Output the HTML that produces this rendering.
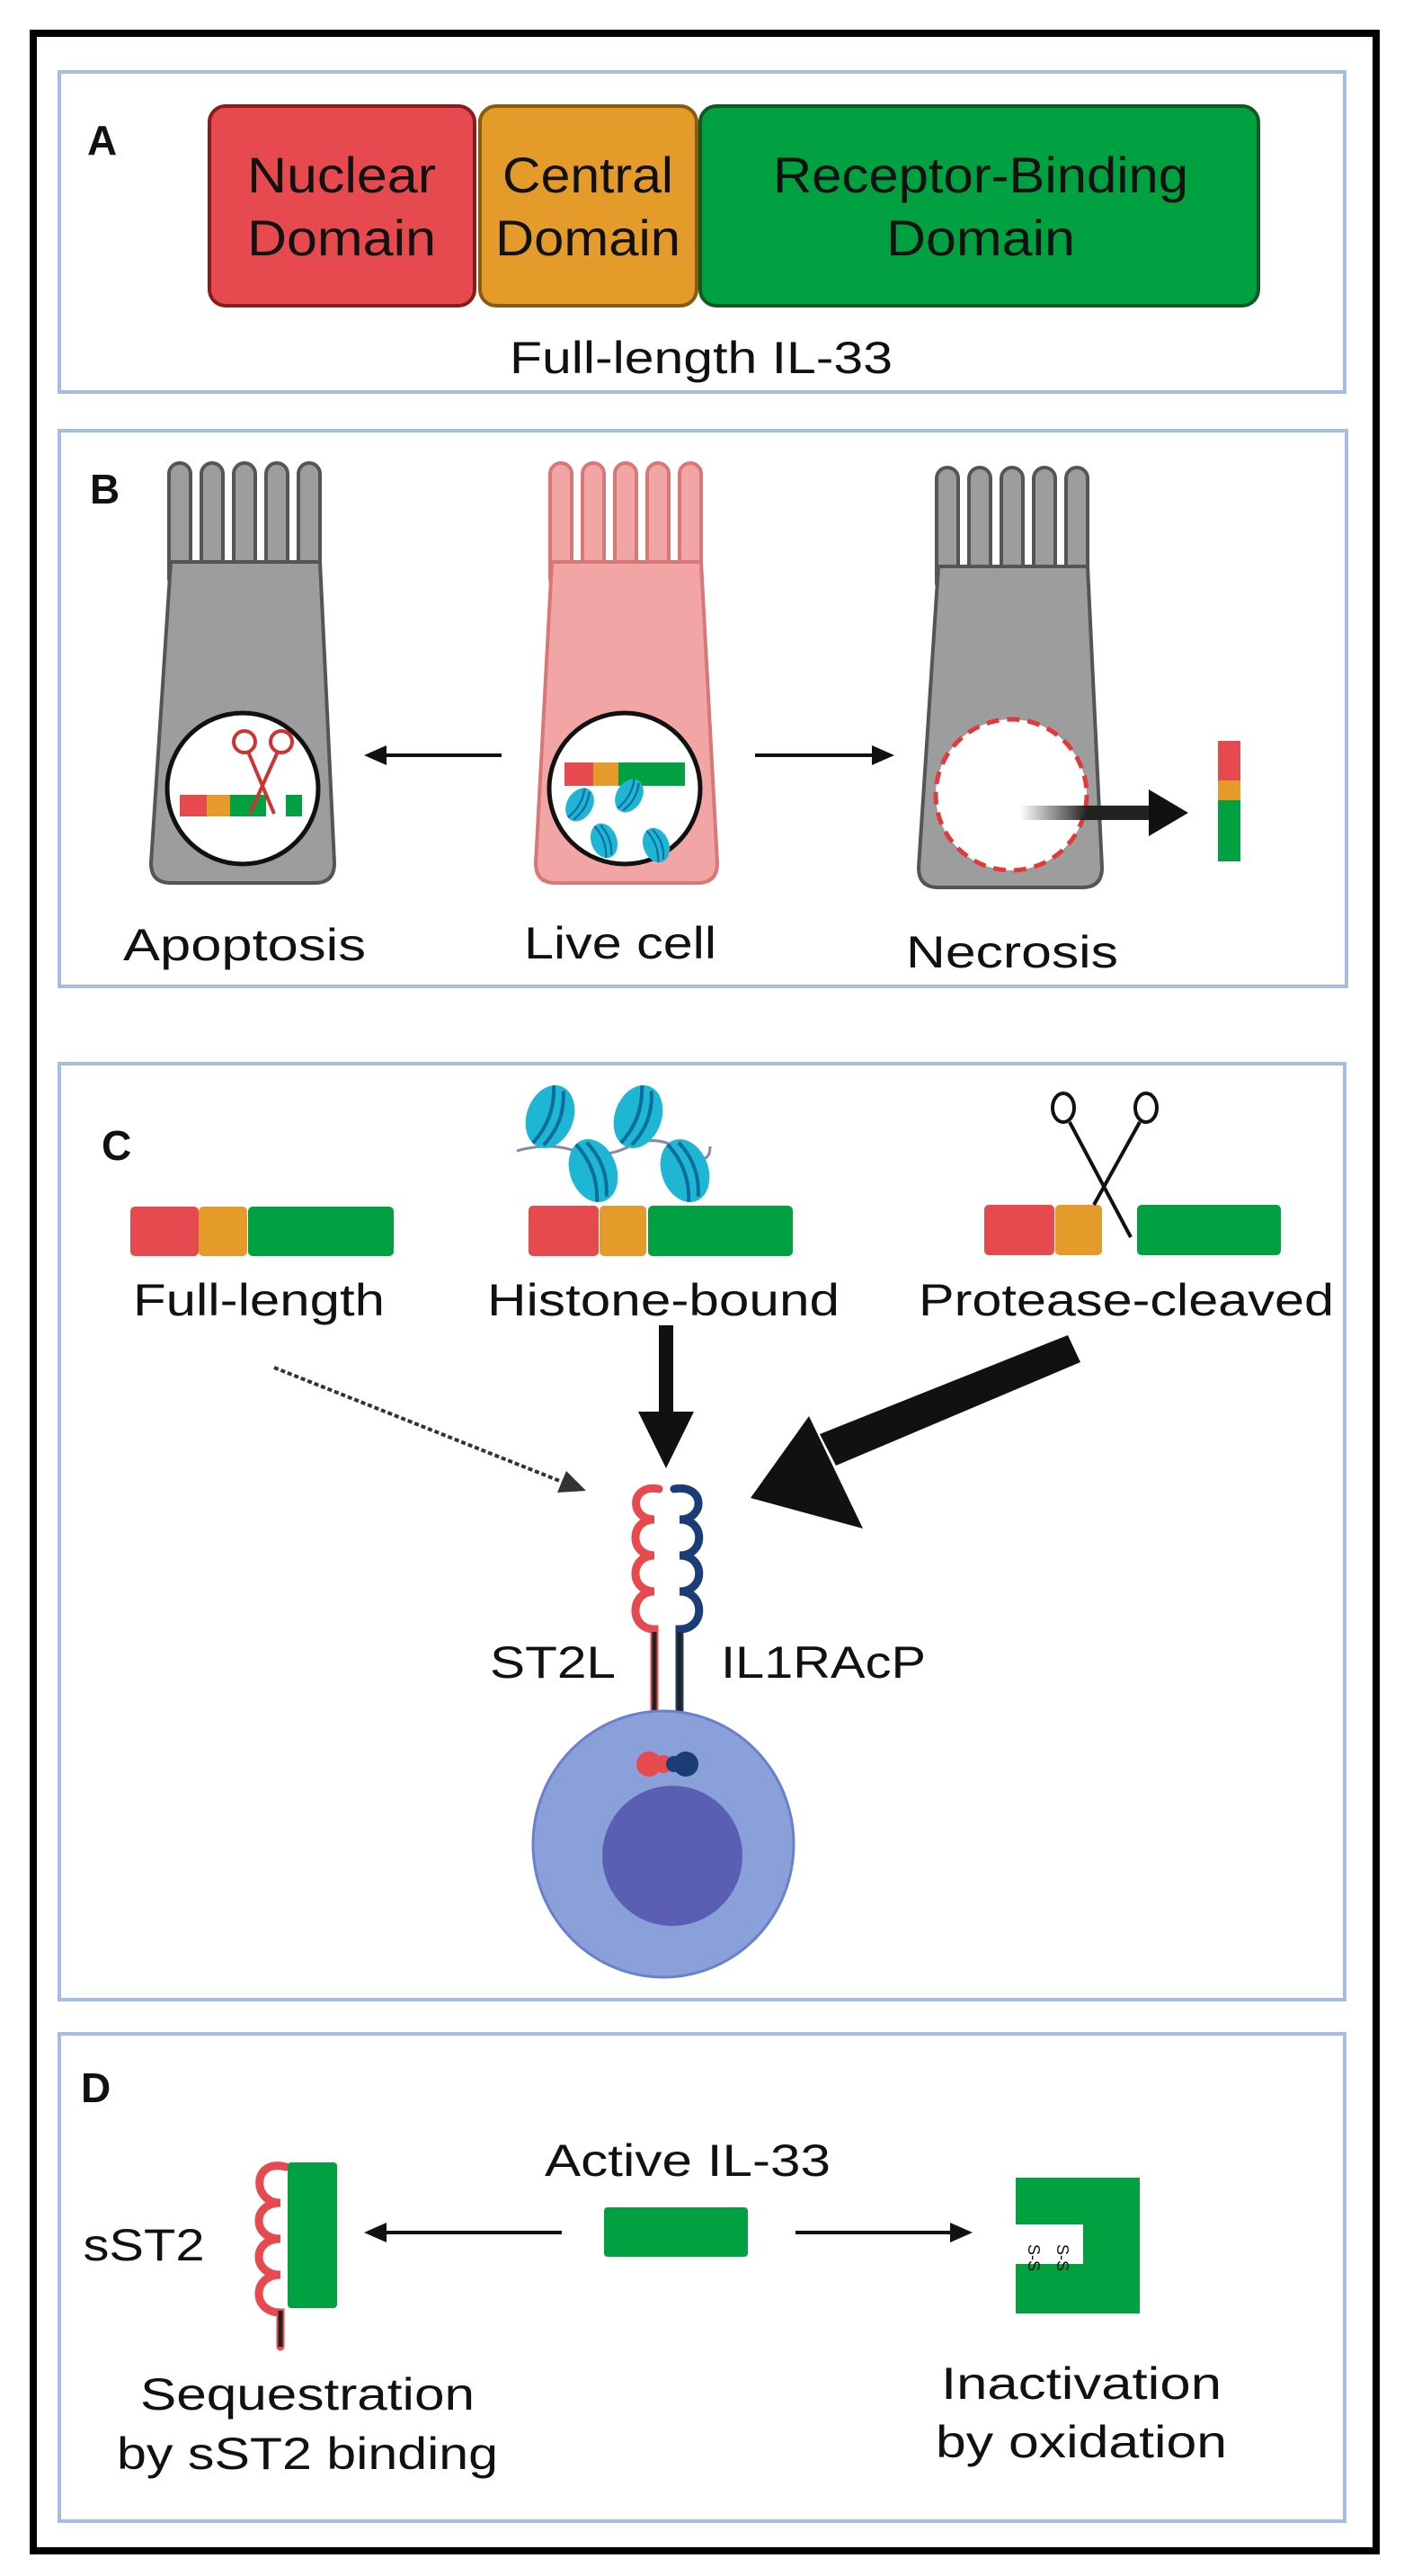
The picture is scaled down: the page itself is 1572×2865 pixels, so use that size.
<!DOCTYPE html>
<html><head><meta charset="utf-8"><style>html,body{margin:0;padding:0;background:#fff}svg{display:block}text{font-family:"Liberation Sans",sans-serif;fill:#111}</style></head><body>
<svg width="1572" height="2865" viewBox="0 0 1572 2865" xmlns="http://www.w3.org/2000/svg">
<defs>
<marker id="ah" markerWidth="10" markerHeight="10" refX="9" refY="5" orient="auto" markerUnits="userSpaceOnUse"><path d="M0,0 L0,0"/></marker>
<linearGradient id="fade" x1="0" x2="1"><stop offset="0" stop-color="#222" stop-opacity="0"/><stop offset="0.5" stop-color="#222"/><stop offset="1" stop-color="#222"/></linearGradient>
<g id="fingersG">
<rect x="0" y="0" width="24" height="140" rx="12" fill="#9d9d9d" stroke="#555" stroke-width="4"/>
<rect x="36" y="0" width="24" height="140" rx="12" fill="#9d9d9d" stroke="#555" stroke-width="4"/>
<rect x="72" y="0" width="24" height="140" rx="12" fill="#9d9d9d" stroke="#555" stroke-width="4"/>
<rect x="108" y="0" width="24" height="140" rx="12" fill="#9d9d9d" stroke="#555" stroke-width="4"/>
<rect x="144" y="0" width="24" height="140" rx="12" fill="#9d9d9d" stroke="#555" stroke-width="4"/>
</g>
<g id="fingersP">
<rect x="0" y="0" width="24" height="140" rx="12" fill="#f2a5a5" stroke="#d97777" stroke-width="4"/>
<rect x="36" y="0" width="24" height="140" rx="12" fill="#f2a5a5" stroke="#d97777" stroke-width="4"/>
<rect x="72" y="0" width="24" height="140" rx="12" fill="#f2a5a5" stroke="#d97777" stroke-width="4"/>
<rect x="108" y="0" width="24" height="140" rx="12" fill="#f2a5a5" stroke="#d97777" stroke-width="4"/>
<rect x="144" y="0" width="24" height="140" rx="12" fill="#f2a5a5" stroke="#d97777" stroke-width="4"/>
</g>
<g id="hist"><ellipse cx="0" cy="0" rx="26" ry="36" fill="#1fb6d6"/><path d="M-8,-34 Q6,0 -8,34 M4,-32 Q18,0 4,32" stroke="#0b6d9a" stroke-width="4" fill="none"/></g>
</defs>
<rect x="0" y="0" width="1572" height="2865" fill="#fff"/>
<rect x="37" y="37" width="1494" height="2800" fill="none" stroke="#000" stroke-width="8"/>
<!-- panel A -->
<rect x="66" y="80" width="1430" height="356" fill="none" stroke="#a4bde3" stroke-width="4"/>
<text x="97" y="172" font-size="46" font-weight="bold" textLength="36">A</text>
<rect x="233" y="118" width="295" height="222" rx="18" fill="#e64a4e" stroke="#8b1a1a" stroke-width="4"/>
<rect x="534" y="118" width="241" height="222" rx="18" fill="#e49b29" stroke="#8a5a10" stroke-width="4"/>
<rect x="779" y="118" width="621" height="222" rx="18" fill="#01a040" stroke="#0f5a23" stroke-width="4"/>
<text x="380" y="214" font-size="56" text-anchor="middle" textLength="210" lengthAdjust="spacingAndGlyphs">Nuclear</text>
<text x="380" y="284" font-size="56" text-anchor="middle" textLength="210" lengthAdjust="spacingAndGlyphs">Domain</text>
<text x="654" y="214" font-size="56" text-anchor="middle" textLength="190" lengthAdjust="spacingAndGlyphs">Central</text>
<text x="654" y="284" font-size="56" text-anchor="middle" textLength="206" lengthAdjust="spacingAndGlyphs">Domain</text>
<text x="1091" y="214" font-size="56" text-anchor="middle" textLength="462" lengthAdjust="spacingAndGlyphs">Receptor-Binding</text>
<text x="1091" y="284" font-size="56" text-anchor="middle" textLength="210" lengthAdjust="spacingAndGlyphs">Domain</text>
<text x="780" y="415" font-size="50" text-anchor="middle" textLength="426" lengthAdjust="spacingAndGlyphs">Full-length IL-33</text>
<!-- panel B -->
<rect x="66" y="479" width="1432" height="618" fill="none" stroke="#a4bde3" stroke-width="4"/>
<text x="100" y="560" font-size="46" font-weight="bold">B</text>
<!-- left cell -->
<use href="#fingersG" x="188" y="515"/>
<path d="M190,625 L356,625 L372,960 Q372,982 350,982 L190,982 Q168,982 168,960 Z" fill="#9d9d9d" stroke="#555" stroke-width="4"/>
<circle cx="270" cy="877" r="84" fill="#fff" stroke="#111" stroke-width="5"/>
<rect x="200" y="884" width="30" height="24" fill="#e64a4e"/><rect x="230" y="884" width="26" height="24" fill="#e49b29"/><rect x="256" y="884" width="40" height="24" fill="#01a040"/><rect x="318" y="884" width="18" height="24" fill="#01a040"/>
<g stroke="#c33" stroke-width="4" fill="none"><circle cx="272" cy="825" r="12"/><circle cx="313" cy="825" r="12"/><path d="M276,836 L305,905 M309,836 L278,905"/></g>
<!-- middle cell -->
<use href="#fingersP" x="612" y="515"/>
<path d="M614,625 L780,625 L798,960 Q798,982 776,982 L618,982 Q596,982 596,960 Z" fill="#f2a5a5" stroke="#d97777" stroke-width="4"/>
<circle cx="695" cy="877" r="84" fill="#fff" stroke="#111" stroke-width="5"/>
<rect x="628" y="848" width="32" height="26" fill="#e64a4e"/><rect x="660" y="848" width="28" height="26" fill="#e49b29"/><rect x="688" y="848" width="74" height="26" fill="#01a040"/>
<use href="#hist" transform="translate(645,895) scale(0.55) rotate(30)"/>
<use href="#hist" transform="translate(700,885) scale(0.55) rotate(30)"/>
<use href="#hist" transform="translate(672,935) scale(0.55) rotate(-20)"/>
<use href="#hist" transform="translate(730,940) scale(0.55) rotate(-20)"/>
<!-- right cell -->
<use href="#fingersG" x="1042" y="520"/>
<path d="M1044,630 L1210,630 L1226,965 Q1226,987 1204,987 L1044,987 Q1022,987 1022,965 Z" fill="#9d9d9d" stroke="#555" stroke-width="4"/>
<circle cx="1125" cy="884" r="84" fill="#fff" stroke="#e23a3a" stroke-width="5" stroke-dasharray="14 9"/>
<rect x="1135" y="896" width="150" height="16" fill="url(#fade)"/>
<polygon points="1278,878 1322,904 1278,930" fill="#111"/>
<rect x="1355" y="824" width="25" height="44" fill="#e64a4e"/><rect x="1355" y="868" width="25" height="22" fill="#e49b29"/><rect x="1355" y="890" width="25" height="68" fill="#01a040"/>
<!-- arrows B -->
<line x1="558" y1="840" x2="420" y2="840" stroke="#111" stroke-width="4"/><polygon points="405,840 430,829 430,851" fill="#111"/>
<line x1="840" y1="840" x2="980" y2="840" stroke="#111" stroke-width="4"/><polygon points="995,840 970,829 970,851" fill="#111"/>
<text x="272" y="1068" font-size="50" text-anchor="middle" textLength="270" lengthAdjust="spacingAndGlyphs">Apoptosis</text>
<text x="690" y="1066" font-size="50" text-anchor="middle" textLength="214" lengthAdjust="spacingAndGlyphs">Live cell</text>
<text x="1126" y="1076" font-size="50" text-anchor="middle" textLength="236" lengthAdjust="spacingAndGlyphs">Necrosis</text>
<!-- panel C -->
<rect x="66" y="1183" width="1430" height="1041" fill="none" stroke="#a4bde3" stroke-width="4"/>
<text x="113" y="1290" font-size="46" font-weight="bold">C</text>
<rect x="145" y="1342" width="76" height="55" rx="5" fill="#e64a4e"/><rect x="221" y="1342" width="54" height="55" rx="5" fill="#e49b29"/><rect x="276" y="1342" width="162" height="55" rx="5" fill="#01a040"/>
<rect x="588" y="1341" width="78" height="56" rx="5" fill="#e64a4e"/><rect x="667" y="1341" width="52" height="56" rx="5" fill="#e49b29"/><rect x="721" y="1341" width="161" height="56" rx="5" fill="#01a040"/>
<path d="M575,1280 Q610,1270 640,1280 T700,1275 T760,1280 T790,1275" stroke="#8888aa" stroke-width="3" fill="none"/>
<use href="#hist" transform="translate(612,1242) rotate(20)"/>
<use href="#hist" transform="translate(710,1242) rotate(20)"/>
<use href="#hist" transform="translate(660,1302) rotate(-20)"/>
<use href="#hist" transform="translate(762,1302) rotate(-20)"/>
<rect x="1095" y="1340" width="78" height="56" rx="5" fill="#e64a4e"/><rect x="1174" y="1340" width="52" height="56" rx="5" fill="#e49b29"/><rect x="1265" y="1340" width="160" height="56" rx="5" fill="#01a040"/>
<g stroke="#111" stroke-width="4" fill="none"><ellipse cx="1183" cy="1232" rx="12" ry="16"/><ellipse cx="1275" cy="1232" rx="12" ry="16"/><path d="M1190,1248 L1258,1376 M1268,1248 L1217,1340"/></g>
<text x="288" y="1463" font-size="50" text-anchor="middle" textLength="280" lengthAdjust="spacingAndGlyphs">Full-length</text>
<text x="738" y="1463" font-size="50" text-anchor="middle" textLength="392" lengthAdjust="spacingAndGlyphs">Histone-bound</text>
<text x="1253" y="1463" font-size="50" text-anchor="middle" textLength="462" lengthAdjust="spacingAndGlyphs">Protease-cleaved</text>
<line x1="305" y1="1521" x2="625" y2="1648" stroke="#333" stroke-width="4" stroke-dasharray="5 3"/>
<polygon points="652,1658 620,1660 630,1636" fill="#333"/>
<rect x="733" y="1474" width="16" height="100" fill="#111"/>
<polygon points="710,1570 772,1570 741,1633" fill="#111"/>
<polygon points="1188,1485 1202,1515 930,1630 912,1595" fill="#111"/>
<polygon points="835,1666 900,1575 960,1700" fill="#111"/>
<!-- receptors -->
<path d="M733,1656 C700,1650 700,1690 728,1690 C700,1690 700,1730 728,1730 C700,1730 700,1770 728,1770 C700,1770 700,1812 728,1812 L728,1955" stroke="#e64a4e" stroke-width="9" fill="none" stroke-linecap="round"/>
<path d="M750,1656 C785,1650 785,1690 756,1690 C785,1690 785,1730 756,1730 C785,1730 785,1770 756,1770 C785,1770 785,1812 756,1812 L756,1955" stroke="#1a3d78" stroke-width="9" fill="none" stroke-linecap="round"/>
<path d="M728,1815 L728,1955" stroke="#222" stroke-width="5"/><path d="M756,1815 L756,1955" stroke="#222" stroke-width="5"/>
<text x="615" y="1866" font-size="50" text-anchor="middle" textLength="140" lengthAdjust="spacingAndGlyphs">ST2L</text>
<text x="916" y="1866" font-size="50" text-anchor="middle" textLength="228" lengthAdjust="spacingAndGlyphs">IL1RAcP</text>
<ellipse cx="738" cy="2051" rx="145" ry="148" fill="#8aa0d8" stroke="#6c7fcf" stroke-width="3"/>
<circle cx="748" cy="2064" r="78" fill="#5a5fb4"/>
<circle cx="722" cy="1962" r="14" fill="#e64a4e"/><circle cx="738" cy="1962" r="10" fill="#e64a4e"/>
<circle cx="763" cy="1962" r="14" fill="#1a3d78"/><circle cx="750" cy="1962" r="9" fill="#1a3d78"/>
<!-- panel D -->
<rect x="66" y="2262" width="1430" height="542" fill="none" stroke="#a4bde3" stroke-width="4"/>
<text x="90" y="2338" font-size="46" font-weight="bold">D</text>
<text x="765" y="2420" font-size="50" text-anchor="middle" textLength="318" lengthAdjust="spacingAndGlyphs">Active IL-33</text>
<rect x="672" y="2455" width="160" height="55" rx="4" fill="#01a040"/>
<line x1="625" y1="2483" x2="420" y2="2483" stroke="#111" stroke-width="4"/><polygon points="405,2483 430,2472 430,2494" fill="#111"/>
<line x1="885" y1="2483" x2="1065" y2="2483" stroke="#111" stroke-width="4"/><polygon points="1082,2483 1057,2472 1057,2494" fill="#111"/>
<text x="160" y="2514" font-size="50" text-anchor="middle" textLength="135" lengthAdjust="spacingAndGlyphs">sST2</text>
<path d="M318,2410 C280,2400 280,2450 312,2450 C280,2450 280,2490 312,2490 C280,2490 280,2530 312,2530 C280,2530 280,2572 312,2572 L312,2610" stroke="#e64a4e" stroke-width="9" fill="none" stroke-linecap="round"/>
<line x1="312" y1="2570" x2="312" y2="2610" stroke="#222" stroke-width="5"/>
<rect x="320" y="2405" width="55" height="162" rx="4" fill="#01a040"/>
<path d="M1130,2422 L1268,2422 L1268,2573 L1130,2573 L1130,2518 L1205,2518 L1205,2474 L1130,2474 Z" fill="#01a040"/>
<text x="1150" y="2502" font-size="18" transform="rotate(90 1150 2496)">S-S</text>
<text x="1182" y="2502" font-size="18" transform="rotate(90 1182 2496)">S-S</text>
<text x="342" y="2680" font-size="50" text-anchor="middle" textLength="372" lengthAdjust="spacingAndGlyphs">Sequestration</text>
<text x="342" y="2746" font-size="50" text-anchor="middle" textLength="424" lengthAdjust="spacingAndGlyphs">by sST2 binding</text>
<text x="1203" y="2668" font-size="50" text-anchor="middle" textLength="312" lengthAdjust="spacingAndGlyphs">Inactivation</text>
<text x="1203" y="2733" font-size="50" text-anchor="middle" textLength="324" lengthAdjust="spacingAndGlyphs">by oxidation</text>
</svg>
</body></html>
